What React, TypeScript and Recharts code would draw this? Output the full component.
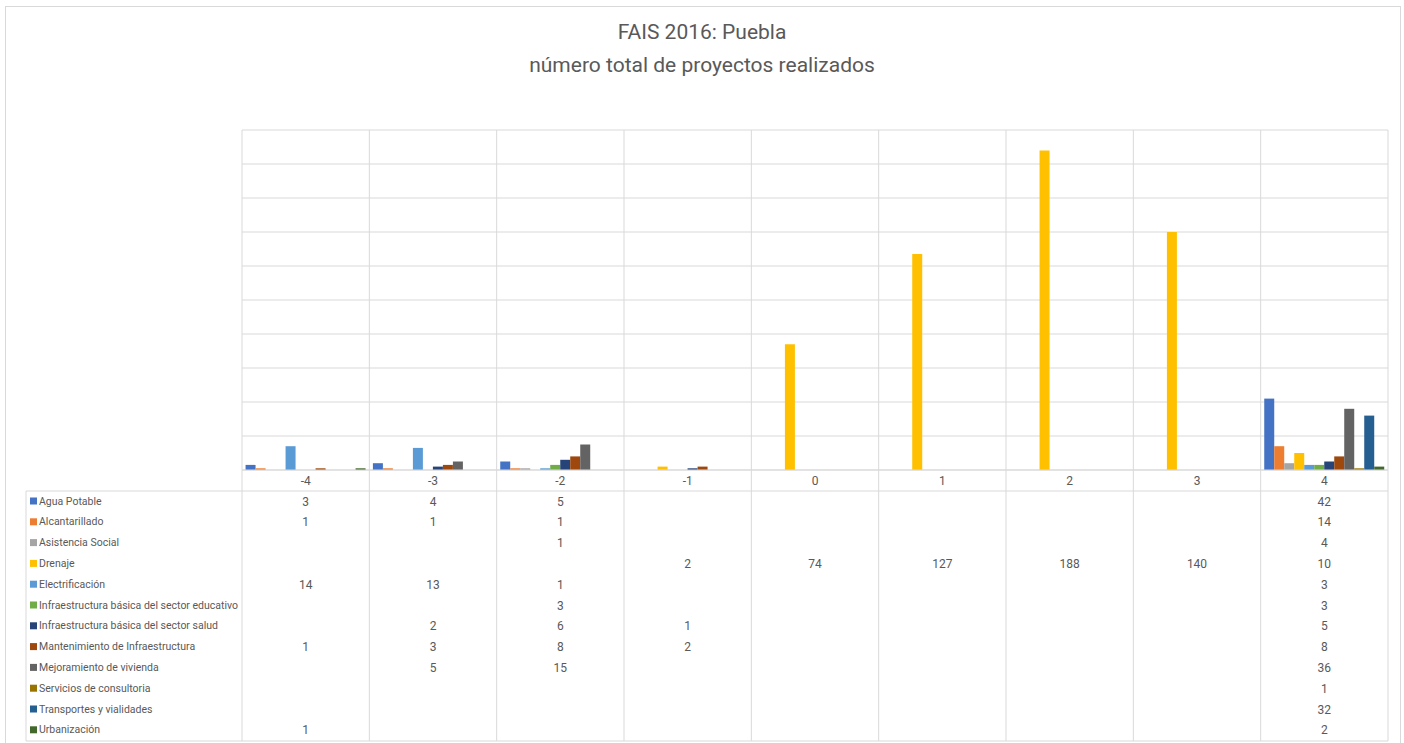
import { BarChart, Bar, XAxis, YAxis, CartesianGrid } from "recharts";

const categories = ["-4", "-3", "-2", "-1", "0", "1", "2", "3", "4"];

const seriesNames = [
  "Agua Potable",
  "Alcantarillado",
  "Asistencia Social",
  "Drenaje",
  "Electrificación",
  "Infraestructura básica del sector educativo",
  "Infraestructura básica del sector salud",
  "Mantenimiento de Infraestructura",
  "Mejoramiento de vivienda",
  "Servicios de consultoria",
  "Transportes y vialidades",
  "Urbanización",
];

const seriesColors = [
  "#4472C4",
  "#ED7D31",
  "#A5A5A5",
  "#FFC000",
  "#5B9BD5",
  "#70AD47",
  "#264478",
  "#9E480E",
  "#636363",
  "#997300",
  "#255E91",
  "#43682B",
];

const aguaPotable = [3, 4, 5, null, null, null, null, null, 42];
const alcantarillado = [1, 1, 1, null, null, null, null, null, 14];
const asistenciaSocial = [null, null, 1, null, null, null, null, null, 4];
const drenaje = [null, null, null, 2, 74, 127, 188, 140, 10];
const electrificacion = [14, 13, 1, null, null, null, null, null, 3];
const infraEducativo = [null, null, 3, null, null, null, null, null, 3];
const infraSalud = [null, 2, 6, 1, null, null, null, null, 5];
const mantenimiento = [1, 3, 8, 2, null, null, null, null, 8];
const mejoramiento = [null, 5, 15, null, null, null, null, null, 36];
const servicios = [null, null, null, null, null, null, null, null, 1];
const transportes = [null, null, null, null, null, null, null, null, 32];
const urbanizacion = [1, null, null, null, null, null, null, null, 2];

const seriesValues = [
  aguaPotable,
  alcantarillado,
  asistenciaSocial,
  drenaje,
  electrificacion,
  infraEducativo,
  infraSalud,
  mantenimiento,
  mejoramiento,
  servicios,
  transportes,
  urbanizacion,
];

const yTicks = [0, 20, 40, 60, 80, 100, 120, 140, 160, 180, 200];

const data = categories.map((cat, i) => {
  const row: Record<string, string | number | null> = { cat };
  seriesValues.forEach((vals, k) => {
    row["s" + k] = vals[i];
  });
  return row;
});

const W = 1404;
const H = 743;
const LEFT = 242;
const RIGHT = 1388;
const TOP = 130;
const BOTTOM = 470;
const BAND = (RIGHT - LEFT) / categories.length;
const TABLE_TOP = 491;
const TABLE_BOTTOM = 741;
const TABLE_LEFT = 26;
const ROW_H = 20.8;
const GRID = "#d9d9d9";
const TEXT = "#595959";
const FONT = "'Liberation Sans Narrow', Roboto, 'Noto Sans', sans-serif";

function rowY(k: number) {
  return 501 + k * ROW_H;
}

function TableTick(props: any) {
  const { x, payload } = props;
  const i = payload.index;
  const left = x - BAND / 2;
  return (
    <g>
      <text x={x} y={481} textAnchor="middle" dominantBaseline="central" fontSize={12} fill={TEXT} fontFamily={FONT}>
        {payload.value}
      </text>
      <line x1={left} y1={BOTTOM} x2={left} y2={TABLE_BOTTOM} stroke={GRID} />
      {i === categories.length - 1 && (
        <line x1={left + BAND} y1={BOTTOM} x2={left + BAND} y2={TABLE_BOTTOM} stroke={GRID} />
      )}
      {seriesValues.map((vals, k) =>
        vals[i] == null ? null : (
          <text key={k} x={x} y={rowY(k) + 0.5} textAnchor="middle" dominantBaseline="central" fontSize={12} fill={TEXT} fontFamily={FONT}>
            {vals[i]}
          </text>
        )
      )}
      {i === 0 && (
        <g>
          <line x1={TABLE_LEFT} y1={TABLE_TOP} x2={RIGHT} y2={TABLE_TOP} stroke={GRID} />
          <line x1={TABLE_LEFT} y1={TABLE_BOTTOM} x2={RIGHT} y2={TABLE_BOTTOM} stroke={GRID} />
          <line x1={TABLE_LEFT} y1={TABLE_TOP} x2={TABLE_LEFT} y2={TABLE_BOTTOM} stroke={GRID} />
          {seriesNames.map((name, k) => (
            <g key={name}>
              <rect x={30} y={rowY(k) - 3.5} width={7} height={7} fill={seriesColors[k]} />
              <text x={39} y={rowY(k)} dominantBaseline="central" fontSize={10.5} fill={TEXT} fontFamily={FONT}>
                {name}
              </text>
            </g>
          ))}
        </g>
      )}
    </g>
  );
}

function hLines({ yAxis, offset }: any) {
  const max = yTicks[yTicks.length - 1];
  return yTicks.map((t) =>
    yAxis && typeof yAxis.scale === "function" ? yAxis.scale(t) : offset.top + offset.height * (1 - t / max)
  );
}

function vLines({ offset }: any) {
  return categories
    .map((_, i) => offset.left + (i * offset.width) / categories.length)
    .concat([offset.left + offset.width]);
}

export default function App() {
  return (
    <div style={{ position: "absolute", left: 0, top: 0, width: W, height: H, background: "#fff", overflow: "hidden" }}>
      <div
        style={{
          position: "absolute",
          left: 5,
          top: 6,
          width: 1396,
          height: 760,
          border: "1px solid " + GRID,
          boxSizing: "border-box",
        }}
      />
      <div
        style={{
          position: "absolute",
          left: 0,
          width: W,
          top: 16,
          textAlign: "center",
          fontFamily: FONT,
          fontSize: 21,
          color: TEXT,
          lineHeight: "33px",
        }}
      >
        <div>FAIS 2016: Puebla</div>
        <div>número total de proyectos realizados</div>
      </div>
      <div style={{ position: "absolute", left: 0, top: 0 }}>
        <BarChart
          width={W}
          height={H}
          data={data}
          margin={{ top: TOP, left: LEFT, right: W - RIGHT, bottom: 0 }}
          barCategoryGap="2.8%"
          barGap={0}
        >
          <CartesianGrid stroke={GRID} horizontalCoordinatesGenerator={hLines} verticalCoordinatesGenerator={vLines} />
          <XAxis
            dataKey="cat"
            height={H - BOTTOM}
            interval={0}
            tickLine={false}
            axisLine={{ stroke: GRID }}
            tick={<TableTick />}
          />
          <YAxis width={0} domain={[0, 200]} ticks={yTicks} tick={false} axisLine={false} tickLine={false} />
          {seriesNames.map((name, k) => (
            <Bar key={name} dataKey={"s" + k} name={name} fill={seriesColors[k]} isAnimationActive={false} />
          ))}
        </BarChart>
      </div>
    </div>
  );
}
